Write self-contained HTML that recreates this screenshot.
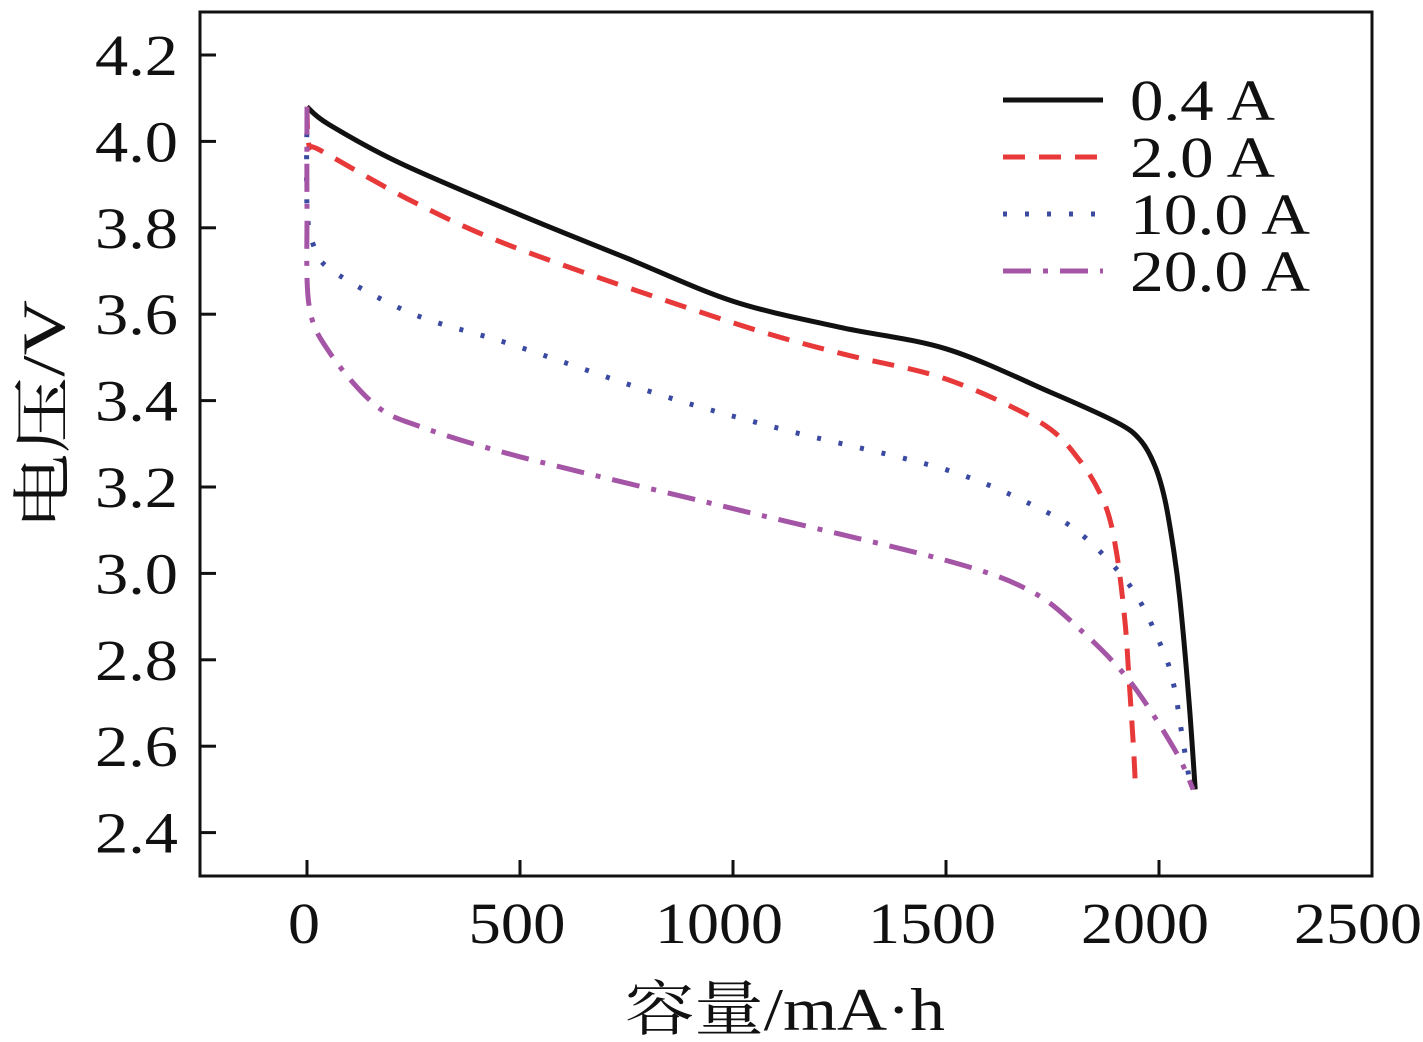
<!DOCTYPE html>
<html><head><meta charset="utf-8"><style>
html,body{margin:0;padding:0;background:#fff;}
svg{display:block;}
text{fill:#111;}
</style></head><body>
<svg id="chart" width="1423" height="1042" viewBox="0 0 1423 1042" xmlns="http://www.w3.org/2000/svg">
<rect x="200" y="12" width="1172" height="864" fill="none" stroke="#111" stroke-width="3"/>
<g id="ticks"></g><g id="series"></g><g id="legend"></g>
<text x="625" y="1030" font-size="60" textLength="320" lengthAdjust="spacingAndGlyphs" font-family="'Liberation Serif','Noto Serif CJK SC',serif"><tspan font-family="'Noto Serif CJK SC',serif">容量</tspan>/mA·h</text>
<text transform="translate(64,530) rotate(-90)" font-size="60" textLength="230" lengthAdjust="spacingAndGlyphs" font-family="'Liberation Serif','Noto Serif CJK SC',serif"><tspan font-family="'Noto Serif CJK SC',serif">电压</tspan>/V</text>
</svg>
<script>
const xTicks=[0,500,1000,1500,2000,2500];
const yTicks=[2.4,2.6,2.8,3.0,3.2,3.4,3.6,3.8,4.0,4.2];
const seriesNames=["0.4 A","2.0 A","10.0 A","20.0 A"];
const s04x=[0,50,218,500,750,1000,1250,1500,1744,1900,1955,1990,2014,2035,2049,2070,2085];
const s04y=[4.08,4.04,3.95,3.83,3.73,3.63,3.57,3.52,3.42,3.35,3.31,3.25,3.17,3.05,2.94,2.71,2.50];
const s20x=[0,5,30,250,500,1000,1250,1500,1721,1815,1873,1900,1920,1930,1940,1945];
const s20y=[4.08,3.99,3.98,3.86,3.75,3.58,3.51,3.45,3.35,3.26,3.16,3.05,2.89,2.75,2.60,2.50];
const s100x=[0,0,15,60,250,480,840,1130,1500,1720,1830,1940,2010,2035,2055,2075];
const s100y=[4.07,3.85,3.76,3.70,3.60,3.53,3.41,3.33,3.24,3.15,3.08,2.96,2.82,2.74,2.62,2.50];
const s200x=[0,0,5,54,160,265,500,1000,1500,1697,1815,1932,2038,2080];
const s200y=[4.08,3.85,3.62,3.51,3.39,3.34,3.27,3.15,3.03,2.96,2.87,2.75,2.59,2.50];
const X=v=>307+v*213/500;
const Y=v=>55+(4.2-v)*432;
const NS="http://www.w3.org/2000/svg";
const FONT="'Liberation Serif','Times New Roman',serif";
function mk(tag,attrs,parent){const e=document.createElementNS(NS,tag);for(const k in attrs)e.setAttribute(k,attrs[k]);parent.appendChild(e);return e;}
function smooth(p){
 let d='M'+p[0][0].toFixed(1)+','+p[0][1].toFixed(1);
 for(let i=0;i<p.length-1;i++){
  const p0=p[Math.max(i-1,0)],p1=p[i],p2=p[i+1],p3=p[Math.min(i+2,p.length-1)];
  const t=0.16;
  const c1=[p1[0]+(p2[0]-p0[0])*t,p1[1]+(p2[1]-p0[1])*t];
  const c2=[p2[0]-(p3[0]-p1[0])*t,p2[1]-(p3[1]-p1[1])*t];
  d+=' C'+c1[0].toFixed(1)+','+c1[1].toFixed(1)+' '+c2[0].toFixed(1)+','+c2[1].toFixed(1)+' '+p2[0].toFixed(1)+','+p2[1].toFixed(1);
 }
 return d;
}
const tg=document.getElementById('ticks');
xTicks.forEach(t=>{
 const l=mk('line',{x1:X(t),x2:X(t),y1:876,y2:860,stroke:'#111','stroke-width':3},tg);
 
 
 const s=String(t);
 const w=s.length===1?32:(s.length===3?97:128);
 const shift=s.length===4?-14:-3;
 const tx=mk('text',{x:X(t)+shift-w/2,y:943,'font-size':58,textLength:w,lengthAdjust:'spacingAndGlyphs','font-family':FONT},tg);
 tx.textContent=s;
 
 
});
yTicks.forEach(t=>{
 const l=mk('line',{x1:200,x2:216,y1:Y(t),y2:Y(t),stroke:'#111','stroke-width':3},tg);
 
 
 const tx=mk('text',{x:95,y:Y(t)+20,'font-size':58,textLength:83,lengthAdjust:'spacingAndGlyphs','font-family':FONT},tg);
 tx.textContent=t.toFixed(1);
 
 
});
const styles=[
 {c:'#111',d:'none',w:5},
 {c:'#e8393a',d:'22 14',w:5},
 {c:'#3a4aa0',d:'4 18',w:5},
 {c:'#a555a5',d:'28 12 5 12',w:5}];
const data=[[s04x,s04y],[s20x,s20y],[s100x,s100y],[s200x,s200y]];
const sg=document.getElementById('series');
data.forEach((d,i)=>{
 const pts=d[0].map((x,j)=>[X(x),Y(d[1][j])]);
 const p=mk('path',{d:smooth(pts),fill:'none',stroke:styles[i].c,'stroke-width':styles[i].w,'stroke-dasharray':styles[i].d,'stroke-linejoin':'round'},sg);
 
 
});
const lg=document.getElementById('legend');
seriesNames.forEach((n,i)=>{
 const y=100+i*57;
 const l=mk('line',{x1:1003,x2:1103,y1:y,y2:y,stroke:styles[i].c,'stroke-width':styles[i].w,'stroke-dasharray':styles[i].d},lg);
 
 
 const t=mk('text',{x:1130,y:y+20,'font-size':58,textLength:(n.length>5?180:145),lengthAdjust:'spacingAndGlyphs','font-family':FONT},lg);
 t.textContent=n;
 
 
});
</script>
</body></html>
